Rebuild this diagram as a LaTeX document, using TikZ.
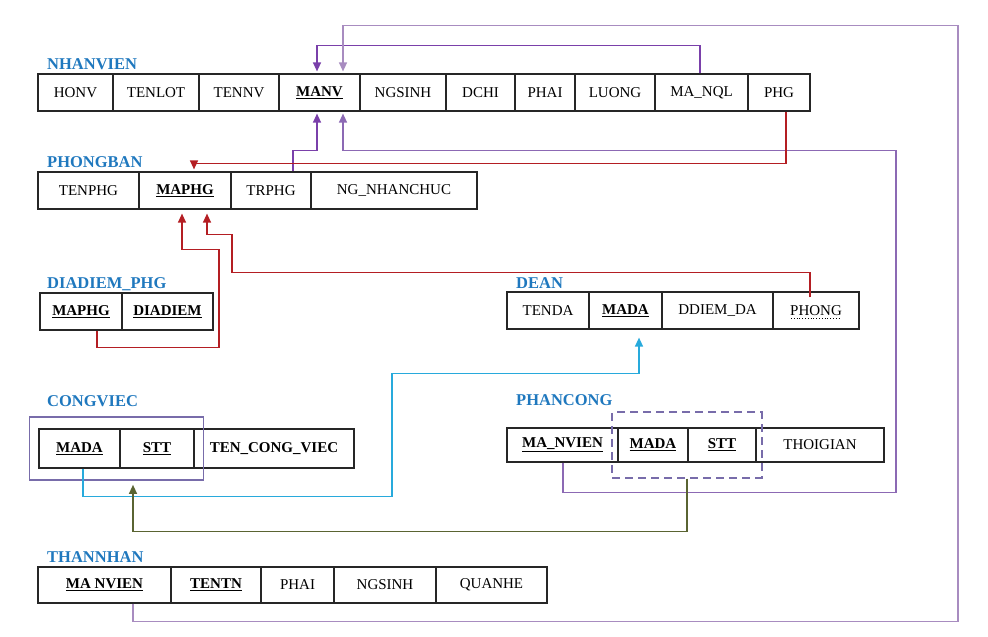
\documentclass[tikz,border=0pt]{standalone}
\usepackage{fontspec}
\setmainfont{Liberation Serif}
\usetikzlibrary{arrows.meta, fit, calc}

\definecolor{titleblue}{RGB}{31,120,190}
\definecolor{fkpurple}{RGB}{122,64,170}
\definecolor{fklilac}{RGB}{168,140,192}
\definecolor{fkviolet}{RGB}{140,105,180}
\definecolor{fkred}{RGB}{180,30,35}
\definecolor{fkcyan}{RGB}{40,170,220}
\definecolor{fkolive}{RGB}{90,100,50}
\definecolor{keyviolet}{RGB}{120,108,170}

\newcommand{\pkey}[1]{\underline{\textbf{#1}}}

\tikzset{
  cell/.style={draw=black!85, line width=1.2pt, minimum height=37pt, inner sep=0pt,
    font=\fontsize{15}{17}\selectfont},
  tname/.style={anchor=base west, inner sep=0pt, text=titleblue,
    font=\fontsize{16.5}{18}\selectfont\bfseries},
  fk/.style={line width=1.3pt, -{Triangle[width=8pt,length=9pt]}, shorten >=2pt},
  keybox/.style={draw=keyviolet, line width=1.5pt, inner sep=0pt},
}

\begin{document}
\begin{tikzpicture}[x=1pt, y=-1pt]
  \useasboundingbox (0,0) rectangle (988,637);

  % NHANVIEN
  \node[tname] (tnv) at (47,69) {NHANVIEN};
  \foreach \id/\a/\b/\txt in {nvhonv/38/113/HONV, nvtenlot/113/199/TENLOT,
      nvtennv/199/279/TENNV, nvmanv/279/360/\pkey{MANV}, nvngsinh/360/446/NGSINH,
      nvdchi/446/515/DCHI, nvphai/515/575/PHAI, nvluong/575/655/LUONG,
      nvmanql/655/748/MA\_NQL, nvphg/748/810/PHG}
    \node[cell, minimum width={(\b-\a)*1pt}] (\id) at ({(\a+\b)/2},92.5) {\txt};

  % PHONGBAN
  \node[tname] (tpb) at (47,167) {PHONGBAN};
  \foreach \id/\a/\b/\txt in {pbtenphg/38/139/TENPHG, pbmaphg/139/231/\pkey{MAPHG},
      pbtrphg/231/311/TRPHG, pbngnc/311/477/NG\_NHANCHUC}
    \node[cell, minimum width={(\b-\a)*1pt}] (\id) at ({(\a+\b)/2},190.5) {\txt};

  % DIADIEM_PHG
  \node[tname] (tdd) at (47,288) {DIADIEM\_PHG};
  \foreach \id/\a/\b/\txt in {ddmaphg/40/122/\pkey{MAPHG}, dddiadiem/122/213/\pkey{DIADIEM}}
    \node[cell, minimum width={(\b-\a)*1pt}] (\id) at ({(\a+\b)/2},311.5) {\txt};

  % DEAN
  \node[tname] (tdn) at (516,288) {DEAN};
  \foreach \id/\a/\b/\txt in {dntenda/507/589/TENDA, dnmada/589/662/\pkey{MADA},
      dnddiem/662/773/DDIEM\_DA, dnphong/773/859/PHONG}
    \node[cell, minimum width={(\b-\a)*1pt}] (\id) at ({(\a+\b)/2},310.5) {\txt};
  \draw[dotted, line width=0.8pt] ($(dnphong.center)+(-25,7.5)$) -- ++(50,0);

  % CONGVIEC
  \node[tname] (tcv) at (47,406) {CONGVIEC};
  \foreach \id/\a/\b/\txt in {cvmada/39/120/\pkey{MADA}, cvstt/120/194/\pkey{STT},
      cvten/194/354/\textbf{TEN\_CONG\_VIEC}}
    \node[cell, minimum height=39pt, minimum width={(\b-\a)*1pt}] (\id) at ({(\a+\b)/2},448.5) {\txt};
  \node[keybox, fit=(cvmada)(cvstt), inner xsep=9pt, inner ysep=11.5pt] (cvkey) {};

  % PHANCONG
  \node[tname] (tpc) at (516,405) {PHANCONG};
  \foreach \id/\a/\b/\txt in {pcmanv/507/618/\pkey{MA\_NVIEN}, pcmada/618/688/\pkey{MADA},
      pcstt/688/756/\pkey{STT}, pcthoigian/756/884/THOIGIAN}
    \node[cell, minimum height=34pt, minimum width={(\b-\a)*1pt}] (\id) at ({(\a+\b)/2},445) {\txt};
  \node[keybox, line width=2pt, dash pattern=on 8pt off 5pt, fit=(pcmada)(pcstt), inner xsep=5pt, inner ysep=15pt] (pckey) {};

  % THANNHAN
  \node[tname] (ttn) at (47,562) {THANNHAN};
  \foreach \id/\a/\b/\txt in {tnmanv/38/171/\pkey{MA NVIEN}, tntentn/171/261/\pkey{TENTN},
      tnphai/261/334/PHAI, tnngsinh/334/436/NGSINH, tnquanhe/436/547/QUANHE}
    \node[cell, minimum height=36pt, minimum width={(\b-\a)*1pt}] (\id) at ({(\a+\b)/2},585) {\txt};

  % foreign keys to NHANVIEN
  \draw[fk, fkpurple] ([xshift=-1.5pt]nvmanql.north) -- ++(0,-28) -| ([xshift=-2.5pt]nvmanv.north);
  \draw[fk, fklilac] ([xshift=28.5pt]tnmanv.south) -- ++(0,18) -| ++(825,-596) -| ([xshift=23.5pt]nvmanv.north);
  \draw[fk, fkpurple] ([xshift=22pt]pbtrphg.north) -- ++(0,-21) -| ([xshift=-2.5pt]nvmanv.south);
  \draw[fk, fkviolet] ([xshift=0.5pt]pcmanv.south) -- ++(0,30) -| ++(333,-342) -| ([xshift=23.5pt]nvmanv.south);

  % foreign keys to PHONGBAN
  \draw[fk, fkred] ([xshift=7pt]nvphg.south) -- ++(0,52) -| ([xshift=9pt]pbmaphg.north);
  \draw[fk, fkred, shorten >=4pt] ([xshift=16pt]ddmaphg.south) -- ++(0,17) -| ++(122,-98) -| ([xshift=-3pt]pbmaphg.south);
  \draw[fk, fkred, shorten >=4pt] ([shift={(-6pt,-6pt)}]dnphong.north) -- ++(0,-25) -| ++(-578,-38) -| ([xshift=22pt]pbmaphg.south);

  % foreign keys to DEAN and CONGVIEC
  \draw[fk, fkcyan, shorten >=8pt] ([xshift=3.5pt]cvmada.south) -- ++(0,28) -| ++(309,-123) -| ([xshift=13.5pt]dnmada.south);
  \draw[fk, fkolive, shorten >=4pt] (pckey.south) -- ++(0,53) -| ([xshift=16.5pt]cvkey.south);
\end{tikzpicture}
\end{document}
